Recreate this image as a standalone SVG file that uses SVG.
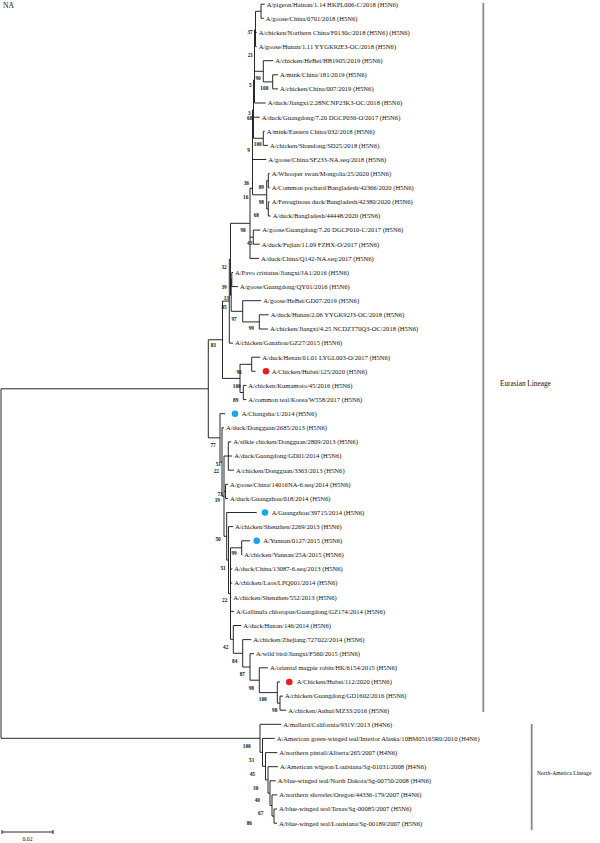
<svg xmlns="http://www.w3.org/2000/svg" width="600" height="843" viewBox="0 0 600 843">
<style>
.t{font-family:"Liberation Serif","Times New Roman",serif;font-size:6.6px;fill:#111}
.b{font-family:"Liberation Serif","Times New Roman",serif;font-size:5.3px;font-weight:bold;fill:#111;text-anchor:end}
.l{font-family:"Liberation Serif","Times New Roman",serif;font-size:5.7px;fill:#111}
.e{fill:none;stroke:#111;stroke-width:0.9}
.bar{fill:none;stroke:#8a8a8a;stroke-width:1.8}
.red{fill:#ee1c1c}
.blue{fill:#1ba6ea}
</style>
<rect width="600" height="843" fill="#fff"/>
<text class="t" x="3" y="8" style="font-size:7.6px">NA</text>
<g id="connectors">
<path class="e" d="M1 388.8V738.3M1 388.8H208.3M1 738.3H260
M208.3 339.75V437.85M208.3 339.75H222.5M222.5 301.1V378.4M222.5 301.1H229.3M229.3 259.1V343.1M229.3 343.1H233
M229.3 259.1H230.5M230.5 223.3V295.2M230.5 223.3H250M230.5 295.2H231.2M231.2 279.5V311.3M231.2 279.5H231.8M231.8 272.5V286.6M231.8 272.5H233M231.8 286.6H238
M231.2 311.3H242.7M242.7 300.7V321.9M242.7 300.7H261.3M242.7 321.9H259.3M259.3 314.8V329M259.3 314.8H268.7M259.3 329H268
M222.5 378.4H240M240 364.3V392.5M240 364.3H251.7M251.7 357.2V371.3M251.7 357.2H260.3M251.7 371.3H255.5M240 392.5H243.3M243.3 385.4V399.6M243.3 385.4H246.3M243.3 399.6H246.3
M250 188.2V258.4M250 237.2H253.3M253.3 230.1V244.2M253.3 230.1H260.3M253.3 244.2H259.7M250 258.4H259M250 188.2H252.5
M252.5 110V194.8M252.5 194.8H266.7M252.5 159.5H266.3M252.5 110H253.5M253.5 80V138.3M253.5 117.2H259.7M253.5 138.3H263.3M253.5 80H254.5
M254.5 30V103M254.5 71.3H263.3M254.5 103H265.7M254.5 30H255.5M255.5 11.3V46.6M255.5 11.3H261M255.5 32.4H256.7M255.5 46.6H256.7
M261 4.2V18.3M261 4.2H264.7M261 18.3H263.7M263.3 60.7V81.9M263.3 60.7H273.3M263.3 81.9H272.7M272.7 74.8V88.9M272.7 74.8H278M272.7 88.9H278
M263.3 131.3V145.4M263.3 131.3H264.7M263.3 145.4H268M266.7 180.7V209M266.7 180.7H268.3M266.7 209H268.3M268.3 173.6V187.8M268.3 201.9V216M268.3 173.6H269.7M268.3 187.8H269.7M268.3 201.9H269.7M268.3 216H270.7
M208.3 437.85H220M220 413.7V462M220 413.7H225M220 462H222M222 427.8V496.2M222 427.8H224M222 496.2H224M224 456V536.3M224 456H228.3M228.3 441.9V470.2M228.3 441.9H231.3M228.3 456H232.3M228.3 470.2H234
M224 491.3H225.5M225.5 484.3V498.4M225.5 484.3H228M225.5 498.4H228M224 536.3H226.7M226.7 512.5V560.1M226.7 512.5H256.7M226.7 560.1H228.5M228.5 526.6V593.6M228.5 526.6H233
M228.5 593.6H230.5M230.5 547.8V639.4M230.5 547.8H241.7M241.7 540.8V554.9M241.7 540.8H250M241.7 554.9H242.3M230.5 569H232.3M230.5 583.1H232.3M230.5 597.2H231.3M230.5 611.4H234
M230.5 639.4H233.3M233.3 625.5V653.3M233.3 625.5H241.3M233.3 653.3H242.7M242.7 639.6V667M242.7 639.6H251.3M242.7 667H250M250 653.7V680.2M250 653.7H254M250 680.2H259.3M259.3 667.8V692.6M259.3 667.8H268
M259.3 692.6H277.3M277.3 682V703.15M277.3 682H280M277.3 703.15H280M280 696.1V710.2M280 696.1H283M280 710.2H286.3
M260 724.3V752.3M260 724.3H281.3M260 752.3H262.5M262.5 738.4V766.3M262.5 738.4H274.7M262.5 766.3H265.5M265.5 752.6V779.9M265.5 752.6H277.3M265.5 779.9H268M268 766.7V793.2M268 766.7H278
M268 793.2H270M270 780.8V805.5M270 780.8H275.7M270 805.5H272M272 794.9V816.1M272 794.9H277.3M272 816.1H274M274 809V823.2M274 809H277M274 823.2H277"/>
</g>
<g id="bootstrap">
<text class="b" x="252.7" y="33.8">37</text><text class="b" x="253" y="56.8">21</text><text class="b" x="260.7" y="80.1">90</text><text class="b" x="268.3" y="90.1">100</text><text class="b" x="251.7" y="86.8">5</text>
<text class="b" x="250.7" y="114.5">3</text><text class="b" x="252.3" y="120.1">68</text><text class="b" x="261.7" y="146.1">100</text><text class="b" x="250" y="151.8">9</text><text class="b" x="249" y="184.5">36</text>
<text class="b" x="264" y="189.1">89</text><text class="b" x="248.3" y="198.5">16</text><text class="b" x="264" y="203.5">98</text><text class="b" x="259" y="216.8">68</text><text class="b" x="245.7" y="231.8">98</text>
<text class="b" x="252.3" y="245.1">43</text><text class="b" x="226.7" y="268.5">32</text><text class="b" x="226.7" y="289.1">39</text><text class="b" x="229" y="299.5">13</text><text class="b" x="226.7" y="309.1">85</text>
<text class="b" x="236.7" y="320.5">97</text><text class="b" x="254" y="330.1">99</text><text class="b" x="216" y="346.8">83</text><text class="b" x="241.7" y="373.5">96</text><text class="b" x="240.7" y="387.5">100</text>
<text class="b" x="238.3" y="401.5">89</text><text class="b" x="215.7" y="446.8">77</text><text class="b" x="221" y="465.8">51</text><text class="b" x="219" y="472.5">22</text><text class="b" x="222.7" y="495.8">73</text>
<text class="b" x="220" y="501.6">19</text><text class="b" x="220.7" y="541.1">50</text><text class="b" x="236.7" y="555.1">99</text><text class="b" x="225.7" y="570.1">51</text><text class="b" x="227.3" y="601.8">22</text>
<text class="b" x="228.3" y="648.5">42</text><text class="b" x="237.3" y="662.5">84</text><text class="b" x="245" y="675.8">87</text><text class="b" x="254" y="690.1">98</text><text class="b" x="266.7" y="700.8">100</text>
<text class="b" x="277.3" y="711.8">98</text><text class="b" x="250.7" y="747.5">100</text><text class="b" x="254.3" y="761.8">51</text><text class="b" x="255" y="775.8">45</text><text class="b" x="258.3" y="790.1">30</text>
<text class="b" x="260" y="801.8">40</text><text class="b" x="263.3" y="814.5">67</text><text class="b" x="252" y="824.8">86</text>
</g>
<g id="leaf1"><text class="t" x="266.7" y="6.5">A/pigeon/Hainan/1.14 HKPL006-C/2018 (H5N6)</text></g>
<g id="leaf2"><text class="t" x="265.7" y="20.6">A/goose/China/0701/2018 (H5N6)</text></g>
<g id="leaf3"><text class="t" x="258.7" y="34.7">A/chicken/Northern China/F0130c/2018 (H5N6) (H5N6)</text></g>
<g id="leaf4"><text class="t" x="258.7" y="48.9">A/goose/Hunan/1.11 YYGK92E3-OC/2018 (H5N6)</text></g>
<g id="leaf5"><text class="t" x="275.3" y="63">A/chicken/HeBei/HB1905/2019 (H5N6)</text></g>
<g id="leaf6"><text class="t" x="280" y="77.1">A/mink/China/181/2019 (H5N6)</text></g>
<g id="leaf7"><text class="t" x="280" y="91.2">A/chicken/China/007/2019 (H5N6)</text></g>
<g id="leaf8"><text class="t" x="267.7" y="105.3">A/duck/Jiangxi/2.28NCNP23K3-OC/2018 (H5N6)</text></g>
<g id="leaf9"><text class="t" x="261.7" y="119.5">A/duck/Guangdong/7.20 DGCP036-O/2017 (H5N6)</text></g>
<g id="leaf10"><text class="t" x="266.7" y="133.6">A/mink/Eastern China/032/2018 (H5N6)</text></g>
<g id="leaf11"><text class="t" x="270" y="147.7">A/chicken/Shandong/SD25/2018 (H5N6)</text></g>
<g id="leaf12"><text class="t" x="268.3" y="161.8">A/goose/China/SF233-NA.seq/2018 (H5N6)</text></g>
<g id="leaf13"><text class="t" x="271.7" y="175.9">A/Whooper swan/Mongolia/25/2020 (H5N6)</text></g>
<g id="leaf14"><text class="t" x="271.7" y="190.1">A/Common pochard/Bangladesh/42366/2020 (H5N6)</text></g>
<g id="leaf15"><text class="t" x="271.7" y="204.2">A/Ferruginous duck/Bangladesh/42380/2020 (H5N6)</text></g>
<g id="leaf16"><text class="t" x="272.7" y="218.3">A/duck/Bangladesh/44448/2020 (H5N6)</text></g>
<g id="leaf17"><text class="t" x="262.3" y="232.4">A/goose/Guangdong/7.20 DGCP010-C/2017 (H5N6)</text></g>
<g id="leaf18"><text class="t" x="261.7" y="246.5">A/duck/Fujian/11.09 FZHX-O/2017 (H5N6)</text></g>
<g id="leaf19"><text class="t" x="261" y="260.7">A/duck/China/Q142-NA.seq/2017 (H5N6)</text></g>
<g id="leaf20"><text class="t" x="235" y="274.8">A/Pavo cristatus/Jiangxi/JA1/2016 (H5N6)</text></g>
<g id="leaf21"><text class="t" x="240" y="288.9">A/goose/Guangdong/QY01/2016 (H5N6)</text></g>
<g id="leaf22"><text class="t" x="263.3" y="303">A/goose/HeBei/GD07/2019 (H5N6)</text></g>
<g id="leaf23"><text class="t" x="270.7" y="317.1">A/duck/Hunan/2.06 YYGK92J3-OC/2018 (H5N6)</text></g>
<g id="leaf24"><text class="t" x="270" y="331.3">A/chicken/Jiangxi/4.25 NCDZT70Q3-OC/2018 (H5N6)</text></g>
<g id="leaf25"><text class="t" x="235" y="345.4">A/chicken/Ganzhou/GZ27/2015 (H5N6)</text></g>
<g id="leaf26"><text class="t" x="262.3" y="359.5">A/duck/Henan/01.01 LYGL003-O/2017 (H5N6)</text></g>
<g id="leaf27"><circle class="red" cx="266" cy="371.3" r="3.3"/><text class="t" x="271.7" y="373.6">A/Chicken/Hubei/125/2020 (H5N6)</text></g>
<g id="leaf28"><text class="t" x="248.3" y="387.7">A/chicken/Kumamoto/45/2016 (H5N6)</text></g>
<g id="leaf29"><text class="t" x="248.3" y="401.9">A/common teal/Korea/W558/2017 (H5N6)</text></g>
<g id="leaf30"><circle class="blue" cx="235" cy="413.7" r="3.3"/><text class="t" x="241.7" y="416">A/Changsha/1/2014 (H5N6)</text></g>
<g id="leaf31"><text class="t" x="226" y="430.1">A/duck/Dongguan/2685/2013 (H5N6)</text></g>
<g id="leaf32"><text class="t" x="233.3" y="444.2">A/silkie chicken/Dongguan/2809/2013 (H5N6)</text></g>
<g id="leaf33"><text class="t" x="234.3" y="458.3">A/duck/Guangdong/GD01/2014 (H5N6)</text></g>
<g id="leaf34"><text class="t" x="236" y="472.5">A/chicken/Dongguan/3363/2013 (H5N6)</text></g>
<g id="leaf35"><text class="t" x="230" y="486.6">A/goose/China/14016NA-6.seq/2014 (H5N6)</text></g>
<g id="leaf36"><text class="t" x="230" y="500.7">A/duck/Guangzhou/018/2014 (H5N6)</text></g>
<g id="leaf37"><circle class="blue" cx="265" cy="512.5" r="3.3"/><text class="t" x="271.7" y="514.8">A/Guangzhou/39715/2014 (H5N6)</text></g>
<g id="leaf38"><text class="t" x="235" y="528.9">A/chicken/Shenzhen/2269/2013 (H5N6)</text></g>
<g id="leaf39"><circle class="blue" cx="256.7" cy="540.8" r="3.3"/><text class="t" x="263.3" y="543.1">A/Yunnan/0127/2015 (H5N6)</text></g>
<g id="leaf40"><text class="t" x="244.3" y="557.2">A/chicken/Yunnan/25A/2015 (H5N6)</text></g>
<g id="leaf41"><text class="t" x="234.3" y="571.3">A/duck/China/13087-6.seq/2013 (H5N6)</text></g>
<g id="leaf42"><text class="t" x="234.3" y="585.4">A/chicken/Laos/LPQ001/2014 (H5N6)</text></g>
<g id="leaf43"><text class="t" x="233.3" y="599.5">A/chicken/Shenzhen/552/2013 (H5N6)</text></g>
<g id="leaf44"><text class="t" x="236" y="613.7">A/Gallinula chloropus/Guangdong/GZ174/2014 (H5N6)</text></g>
<g id="leaf45"><text class="t" x="243.3" y="627.8">A/duck/Hunan/146/2014 (H5N6)</text></g>
<g id="leaf46"><text class="t" x="253.3" y="641.9">A/chicken/Zhejiang/727022/2014 (H5N6)</text></g>
<g id="leaf47"><text class="t" x="256" y="656">A/wild bird/Jiangxi/F560/2015 (H5N6)</text></g>
<g id="leaf48"><text class="t" x="270" y="670.1">A/oriental magpie robin/HK/6154/2015 (H5N6)</text></g>
<g id="leaf49"><circle class="red" cx="289.3" cy="682" r="3.3"/><text class="t" x="296.7" y="684.3">A/Chicken/Hubei/112/2020 (H5N6)</text></g>
<g id="leaf50"><text class="t" x="285" y="698.4">A/chicken/Guangdong/GD1602/2016 (H5N6)</text></g>
<g id="leaf51"><text class="t" x="288.3" y="712.5">A/chicken/Anhui/MZ33/2016 (H5N6)</text></g>
<g id="leaf52"><text class="t" x="283.3" y="726.6">A/mallard/California/931V/2013 (H4N6)</text></g>
<g id="leaf53"><text class="t" x="276.7" y="740.7">A/American green-winged teal/Interior Alaska/10BM05165R0/2010 (H4N6)</text></g>
<g id="leaf54"><text class="t" x="279.3" y="754.9">A/northern pintail/Alberta/265/2007 (H4N6)</text></g>
<g id="leaf55"><text class="t" x="280" y="769">A/American wigeon/Louisiana/Sg-01031/2008 (H4N6)</text></g>
<g id="leaf56"><text class="t" x="277.7" y="783.1">A/blue-winged teal/North Dakota/Sg-00750/2008 (H4N6)</text></g>
<g id="leaf57"><text class="t" x="279.3" y="797.2">A/northern shoveler/Oregon/44336-179/2007 (H4N6)</text></g>
<g id="leaf58"><text class="t" x="279" y="811.3">A/blue-winged teal/Texas/Sg-00085/2007 (H5N6)</text></g>
<g id="leaf59"><text class="t" x="279" y="825.5">A/blue-winged teal/Louisiana/Sg-00189/2007 (H5N6)</text></g>
<g id="lineages">
<path class="bar" d="M483.3 3V712M531.7 724V830"/>
<text class="l" x="500" y="385.5" style="font-size:7.3px">Eurasian Lineage</text>
<text class="l" x="537" y="774.7">North-America Lineage</text>
</g>
<g id="scale">
<path class="e" d="M2 832H53M2 830V834M53 830V834"/>
<text class="l" x="27.5" y="840.5" text-anchor="middle">0.02</text>
</g>
</svg>
